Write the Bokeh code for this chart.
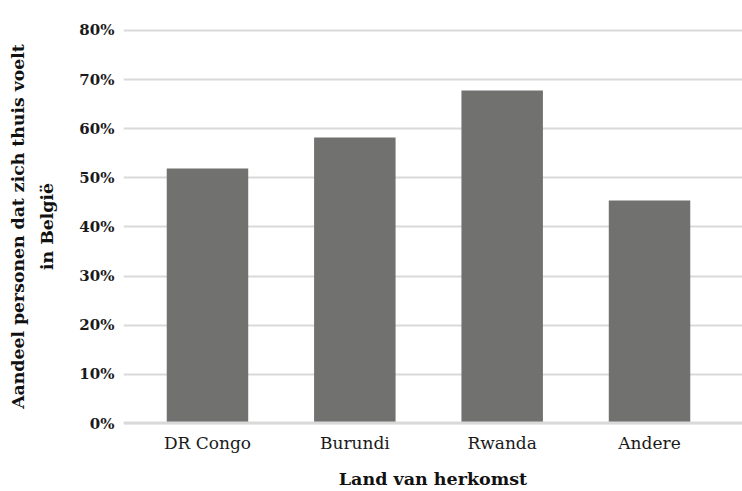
from bokeh.plotting import figure
from bokeh.models import Range1d, FixedTicker, Span, NumeralTickFormatter, ColumnDataSource
from bokeh.embed import file_html
from bokeh.resources import INLINE

categories = ["DR Congo", "Burundi", "Rwanda", "Andere"]
shares = [0.519, 0.582, 0.678, 0.454]
y_ticks = [0.0, 0.1, 0.2, 0.3, 0.4, 0.5, 0.6, 0.7, 0.8]
x_title = "Land van herkomst"
y_title = "Aandeel personen dat zich thuis voelt\nin België"

FONT = "DejaVu Serif"

xs = list(range(len(categories)))
src = ColumnDataSource(dict(x=xs, top=shares))

p = figure(width=742, height=491, output_backend="svg", toolbar_location=None,
           x_range=Range1d(-0.570, 3.631), y_range=Range1d(-0.002, 0.804),
           min_border_left=123, min_border_right=0, min_border_top=28, min_border_bottom=67)
p.outline_line_color = None
p.background_fill_color = "white"
p.border_fill_color = "white"

p.vbar(x="x", top="top", bottom=0, width=0.553, source=src, color="#717170", line_color=None)

p.add_layout(Span(location=0, dimension="width", line_color="#d9d9d9", line_width=4, level="overlay"))

# grid
p.xgrid.grid_line_color = None
p.ygrid.ticker = FixedTicker(ticks=y_ticks)
p.ygrid.grid_line_color = "#d9d9d9"
p.ygrid.grid_line_width = 2

# y axis
ya = p.yaxis[0]
ya.ticker = FixedTicker(ticks=y_ticks)
ya.formatter = NumeralTickFormatter(format="0%")
ya.axis_line_color = None
ya.major_tick_line_color = None
ya.minor_tick_line_color = None
ya.major_tick_out = 0
ya.major_label_standoff = 9
ya.major_label_text_font = FONT
ya.major_label_text_font_style = "bold"
ya.major_label_text_font_size = "15px"
ya.major_label_text_color = "#1a1a1a"
ya.axis_label = y_title
ya.axis_label_text_font = FONT
ya.axis_label_text_font_style = "bold"
ya.axis_label_text_font_size = "17.3px"
ya.axis_label_text_color = "#111111"
ya.axis_label_text_line_height = 1.45
ya.axis_label_standoff = 19

# x axis
xa = p.xaxis[0]
xa.ticker = FixedTicker(ticks=xs)
xa.major_label_overrides = {i: c for i, c in zip(xs, categories)}
xa.axis_line_color = None
xa.major_tick_line_color = None
xa.minor_tick_line_color = None
xa.major_tick_out = 0
xa.major_label_standoff = 8
xa.major_label_text_font = FONT
xa.major_label_text_font_size = "17px"
xa.major_label_text_color = "#1a1a1a"
xa.axis_label = x_title
xa.axis_label_text_font = FONT
xa.axis_label_text_font_style = "bold"
xa.axis_label_text_font_size = "17.5px"
xa.axis_label_text_color = "#111111"
xa.axis_label_standoff = 13

open("out.html", "w").write(file_html(p, INLINE))
